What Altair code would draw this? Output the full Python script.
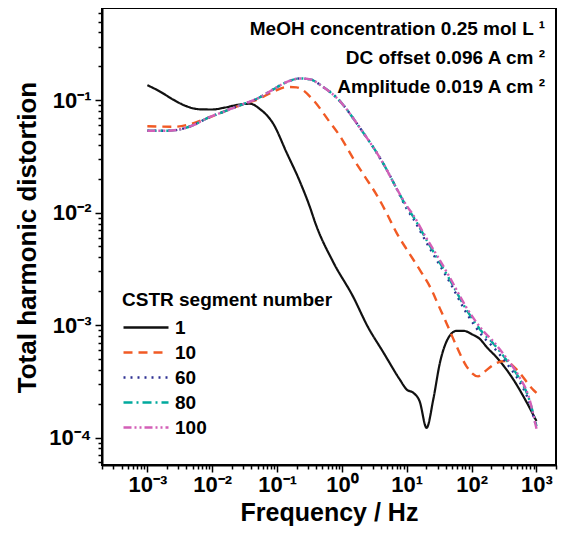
import altair as alt
import pandas as pd

# ---------------- data ----------------
series_names = ["1", "10", "60", "80", "100"]
series_colors = ["#111111", "#F15A24", "#2E3192", "#00A99D", "#D35FB7"]
series_dashes = [[1, 0], [9, 6], [2, 5], [9, 4, 2, 4], [8, 3, 2, 3, 2, 3]]
series_widths = [2.2, 2.4, 2.4, 2.4, 2.4]

freq_1 = [0.001, 0.00158, 0.00251, 0.00398, 0.00631, 0.01, 0.0158, 0.0251, 0.038,
          0.055, 0.087, 0.141, 0.224, 0.316, 0.398, 0.74, 1.48, 2.5, 4.37, 7.76, 10, 12.6,
          15.8, 20.2, 25.7, 32.4, 45.7, 58.9, 74.1, 105, 135, 170, 240, 316, 437, 708, 1000]
thd_1 = [0.136, 0.119, 0.101, 0.0885, 0.083, 0.0826, 0.086, 0.091, 0.093,
         0.083, 0.062, 0.034, 0.019, 0.0115, 0.0078, 0.0036, 0.0018, 0.00097, 0.00057, 0.00033,
         0.000267, 0.00025, 0.00021, 0.000122, 0.00022, 0.00046, 0.0008, 0.00089, 0.00089,
         0.00082, 0.00075, 0.00064, 0.00052, 0.00043, 0.00033, 0.000205, 0.00014]

freq_10 = [0.001, 0.00251, 0.00457, 0.00822, 0.0148, 0.0269, 0.049, 0.087, 0.141, 0.2,
           0.363, 0.617, 0.933, 1.49, 2.26, 3.43, 4.89, 6.97, 10.5, 15.9, 24.1, 30.5, 41,
           58.5, 83.4, 126, 150, 242, 324, 492, 885, 1000]
thd_10 = [0.0587, 0.058, 0.0612, 0.0688, 0.0787, 0.090, 0.101, 0.1186, 0.131, 0.130,
          0.100, 0.0665, 0.048, 0.0304, 0.0209, 0.0144, 0.0099, 0.0066, 0.0045, 0.0031,
          0.00206, 0.00152, 0.00104, 0.00065, 0.00043, 0.00035, 0.000376, 0.00046,
          0.000479, 0.000403, 0.000267, 0.00025]

freq_hi = [0.001, 0.002, 0.00316, 0.00513, 0.00822, 0.0148, 0.0269, 0.049, 0.087, 0.141,
           0.224, 0.324, 0.513, 0.832, 2.01, 4.33, 6.97, 10, 12.6, 20.2, 30.5, 46.1, 83.4,
           150, 214, 344, 553, 743, 1000]
thd_60 = [0.0534, 0.0534, 0.055, 0.060, 0.0688, 0.0787, 0.090, 0.103, 0.1244, 0.145,
          0.156, 0.153, 0.131, 0.105, 0.054, 0.0274, 0.0164, 0.0108, 0.0088, 0.0054,
          0.0036, 0.0024, 0.00128, 0.00079, 0.00064, 0.00046, 0.00031, 0.00022, 0.000122]
thd_80 = [0.0534, 0.0534, 0.055, 0.060, 0.0688, 0.0787, 0.090, 0.103, 0.1244, 0.145,
          0.156, 0.153, 0.131, 0.105, 0.054, 0.0274, 0.0164, 0.0112, 0.0092, 0.0057,
          0.0038, 0.00253, 0.00137, 0.00085, 0.00069, 0.00049, 0.00033, 0.000233, 0.000126]
thd_100 = [0.0534, 0.0534, 0.055, 0.060, 0.0688, 0.0787, 0.090, 0.103, 0.1244, 0.145,
           0.156, 0.153, 0.131, 0.105, 0.054, 0.0274, 0.0164, 0.0115, 0.0095, 0.0059,
           0.0040, 0.00265, 0.00143, 0.00089, 0.00072, 0.00051, 0.00034, 0.00024, 0.00012]

annot_lines = ["MeOH concentration 0.25 mol L \u00b9",
               "DC offset 0.096 A cm \u00b2",
               "Amplitude 0.019 A cm \u00b2"]

x_title = "Frequency / Hz"
y_title = "Total harmonic distortion"
legend_title = "CSTR segment number"

x_domain = [2.0e-4, 2.0e3]
y_domain = [5.7e-5, 0.66]

# ---------------- table ----------------
series_data = [(series_names[0], freq_1, thd_1), (series_names[1], freq_10, thd_10),
               (series_names[2], freq_hi, thd_60), (series_names[3], freq_hi, thd_80),
               (series_names[4], freq_hi, thd_100)]
rows = []
for name, fs, vs in series_data:
    for f, v in zip(fs, vs):
        rows.append({"series": name, "f": f, "thd": v})
df = pd.DataFrame(rows)

x_ticks = [k * 10.0 ** n for n in range(-4, 4) for k in range(1, 10)
           if x_domain[0] <= k * 10.0 ** n <= x_domain[1]]
y_ticks = [k * 10.0 ** n for n in range(-5, 0) for k in range(1, 10)
           if y_domain[0] <= k * 10.0 ** n <= y_domain[1]]

EXP = "round(log(datum.value)/LN10)"
IS_MAJOR = f"abs(log(datum.value)/LN10 - {EXP}) < 0.001"
SUP = f"['\u2070','\u00b9','\u00b2','\u00b3','\u2074','\u2075'][abs({EXP})]"
LABEL = f"{IS_MAJOR} ? '10' + ({EXP} < 0 ? '\u207b' : '') + {SUP} : ''"
TICK_SIZE = {"condition": {"test": IS_MAJOR, "value": 7}, "value": 4}

FONT = "Liberation Sans"
TICK_FS = 22
TEXT_FS = 19

x_axis = alt.Axis(values=x_ticks, labelExpr=LABEL, tickSize=TICK_SIZE, labelOverlap=False,
                  labelFontSize=TICK_FS, labelFont=FONT, labelFontWeight="bold", labelColor="black",
                  labelPadding=2, grid=False, tickColor="black", tickWidth=1.5,
                  domainColor="black", domainWidth=2, title=x_title, titleFont=FONT,
                  titleFontSize=25, titleFontWeight="bold", titleColor="black",
                  titleX=227, titleY=47, titleBaseline="middle", titleAnchor="middle")
y_axis = alt.Axis(values=y_ticks, labelExpr=LABEL, tickSize=TICK_SIZE, labelOverlap=False,
                  labelFontSize=TICK_FS, labelFont=FONT, labelFontWeight="bold", labelColor="black",
                  labelPadding=4, grid=False, tickColor="black", tickWidth=1.5,
                  domainColor="black", domainWidth=2, title=y_title, titleFont=FONT,
                  titleFontSize=26, titleFontWeight="bold", titleColor="black",
                  titleX=-75, titleY=229, titleAngle=270, titleBaseline="middle",
                  titleAlign="center", titleLimit=500)

legend = alt.Legend(title=legend_title, orient="none", legendX=20, legendY=283,
                    symbolType="stroke", symbolSize=2025, symbolStrokeWidth=2.4,
                    clipHeight=19, titleLimit=400, labelLimit=200,
                    labelFontSize=TEXT_FS, labelFont=FONT, labelFontWeight="bold", labelColor="black",
                    titleFontSize=TEXT_FS, titleFont=FONT, titleFontWeight="bold", titleColor="black",
                    rowPadding=5, titlePadding=8, labelOffset=5, padding=0)

enc = dict(
    x=alt.X("f:Q", scale=alt.Scale(type="log", domain=x_domain), axis=x_axis),
    y=alt.Y("thd:Q", scale=alt.Scale(type="log", domain=y_domain), axis=y_axis),
    color=alt.Color("series:N", scale=alt.Scale(domain=series_names, range=series_colors),
                    legend=legend),
    strokeDash=alt.StrokeDash("series:N", scale=alt.Scale(domain=series_names, range=series_dashes),
                              legend=legend),
)

layers = []
for name, w in zip(series_names, series_widths):
    layers.append(
        alt.Chart(df).transform_filter(alt.datum.series == name)
        .mark_line(interpolate="monotone", strokeWidth=w, clip=True)
        .encode(**enc)
    )

annot_y = [21, 50, 79]
for line, yy in zip(annot_lines, annot_y):
    layers.append(
        alt.Chart(pd.DataFrame({"t": [line]})).mark_text(
            align="right", baseline="middle", fontSize=TEXT_FS, font=FONT, fontWeight="bold",
            color="black").encode(x=alt.value(443), y=alt.value(yy), text="t:N")
    )

chart = alt.layer(*layers).properties(
    width=454, height=457,
    padding={"left": 94, "top": 0, "right": 4, "bottom": 72},
    autosize=alt.AutoSizeParams(type="none"),
).configure_view(stroke="black", strokeWidth=2)

chart.save("out.html", embed_options={"renderer": "svg", "actions": False})
